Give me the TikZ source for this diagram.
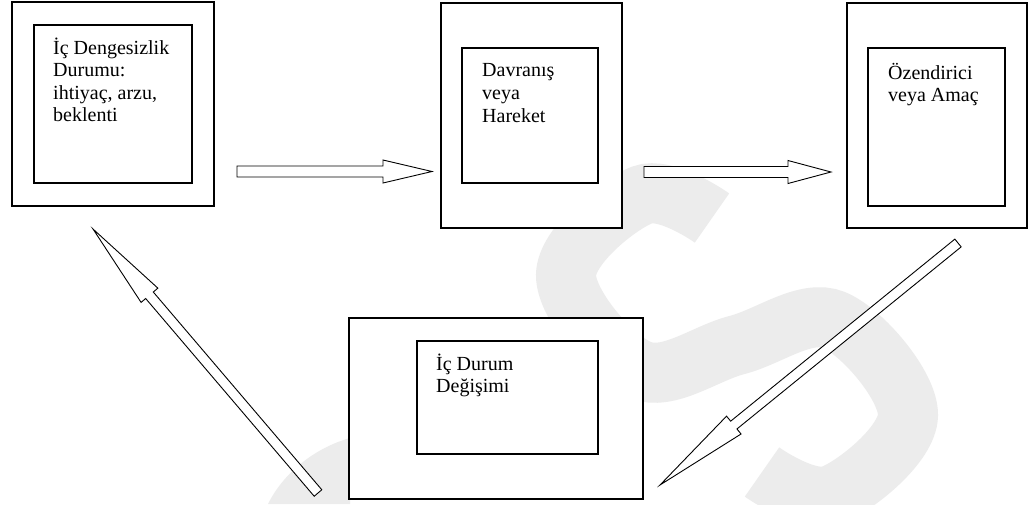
\documentclass[tikz,border=0pt]{standalone}
\usepackage{fontspec}
\setmainfont{Liberation Serif}
\usetikzlibrary{calc}
\definecolor{wmgray}{RGB}{236,236,236}
\newcommand\myblockarrow[5]{%
  \path ($(#2)-(#1)$);%
  \pgfgetlastxy{\bax}{\bay}%
  \pgfmathsetmacro\baang{atan2(\bay,\bax)}%
  \pgfmathsetmacro\balen{veclen(\bax,\bay)}%
  \pgfmathsetmacro\babase{\balen-#5}%
  \begin{scope}[shift={(#1)},rotate=\baang]
    \draw[blockarr] (0,#3) -- (\babase,#3) -- (\babase,#4) -- (\balen,0) -- (\babase,-#4) -- (\babase,-#3) -- (0,-#3) -- cycle;
  \end{scope}}
\begin{document}
\begin{tikzpicture}[x=1pt,y=-1pt,
  box/.style={draw, line width=1.1pt, fill=white, rectangle, inner sep=0pt},
  lbl/.style={anchor=base west, inner sep=0pt, font=\fontsize{20}{23}\selectfont},
  blockarr/.style={draw, line width=0.9pt, fill=white, line join=miter}]
\useasboundingbox (0,0) rectangle (1034,504);
\fill[white] (0,0) rectangle (1034,504);
% watermark
\begin{scope}
\clip (0,0) rectangle (1034,504);
\draw[wmgray, line width=60pt] plot[smooth, tension=0.6] coordinates {(712,218) (642,195) (566,275) (640,370) (737,345) (834,320) (908,415) (832,495) (762,472)};
\fill[wmgray] (268,504) .. controls (285,470) and (318,447) .. (350,438) -- (350,504) -- cycle;
\end{scope}
% boxes
\node[box, minimum width=202pt, minimum height=204pt] (o1) at (113,104) {};
\node[box, minimum width=158pt, minimum height=158pt] (i1) at (113,104) {};
\node[box, minimum width=181pt, minimum height=225pt] (o2) at (531.5,115.5) {};
\node[box, minimum width=136pt, minimum height=135pt] (i2) at (530,115.5) {};
\node[box, minimum width=180pt, minimum height=225pt] (o3) at (937,115.5) {};
\node[box, minimum width=137pt, minimum height=158pt] (i3) at (936.5,127) {};
\node[box, minimum width=294pt, minimum height=181pt] (o4) at (496,408.5) {};
\node[box, minimum width=181pt, minimum height=113pt] (i4) at (507.5,397.5) {};
% labels
\node[lbl] (t1a) at (53,54.3) {İç Dengesizlik};
\node[lbl] (t1b) at (53,76.8) {Durumu:};
\node[lbl] (t1c) at (53,99.3) {ihtiyaç, arzu,};
\node[lbl] (t1d) at (53,121.8) {beklenti};
\node[lbl] (t2a) at (482,76) {Davranış};
\node[lbl] (t2b) at (482,99) {veya};
\node[lbl] (t2c) at (482,122) {Hareket};
\node[lbl] (t3a) at (888,79) {Özendirici};
\node[lbl] (t3b) at (888,101) {veya Amaç};
\node[lbl] (t4a) at (436,370) {İç Durum};
\node[lbl] (t4b) at (436,392.7) {Değişimi};
% arrow end points
\coordinate (a1s) at (237,171.5);
\coordinate (a1e) at (432,171.5);
\coordinate (a2s) at (644,172);
\coordinate (a2e) at (831,172);
\coordinate (a3s) at (958,243);
\coordinate (a3e) at (660,485);
\coordinate (a4s) at (318,493);
\coordinate (a4e) at (93,229);
\myblockarrow{a1s}{a1e}{5.5}{11.5}{49}
\myblockarrow{a2s}{a2e}{5.5}{11.5}{43}
\myblockarrow{a3s}{a3e}{5}{11.5}{95}
\myblockarrow{a4s}{a4e}{5}{11}{87}
\end{tikzpicture}
\end{document}
